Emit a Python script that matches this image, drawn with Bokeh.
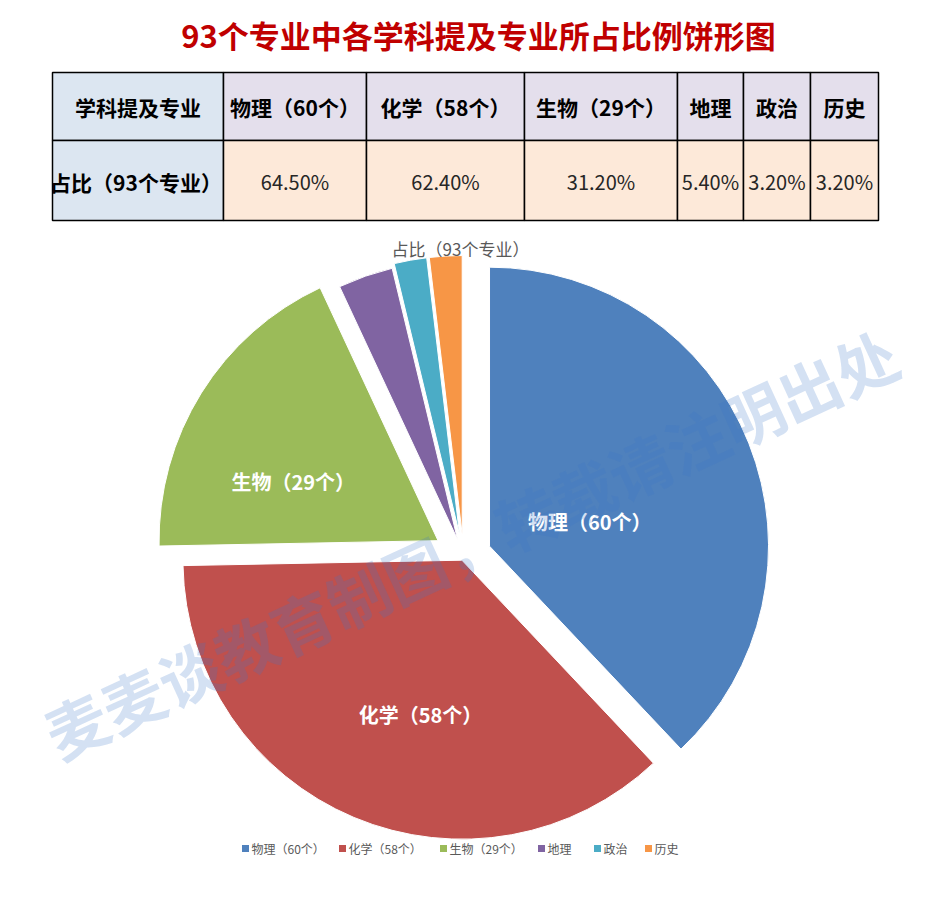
import math
from bokeh.plotting import figure
from bokeh.models import ColumnDataSource, Range1d
from bokeh.core.properties import value
from bokeh.embed import file_html
from bokeh.resources import INLINE

# ---------------- data ----------------
title_text = "93个专业中各学科提及专业所占比例饼形图"
chart_title = "占比（93个专业）"
subjects = ["物理（60个）", "化学（58个）", "生物（29个）", "地理", "政治", "历史"]
shares = [64.5, 62.4, 31.2, 5.4, 3.2, 3.2]
share_labels = ["64.50%", "62.40%", "31.20%", "5.40%", "3.20%", "3.20%"]
row_heads = ["学科提及专业", "占比（93个专业）"]
colors = ["#4F81BD", "#C0504D", "#9BBB59", "#8064A2", "#4BACC6", "#F79646"]
watermark = "麦麦谈教育制图，转载请注明出处"

# ---------------- layout ----------------
W, H = 927, 913
FONT = "Noto Sans CJK SC"


def Y(s):
    return H - s


p = figure(width=W, height=H, x_range=Range1d(0, W), y_range=Range1d(0, H),
           x_axis_type=None, y_axis_type=None, toolbar_location=None,
           output_backend="svg", min_border=0)
p.grid.visible = False
p.outline_line_color = None
p.background_fill_color = "white"
p.border_fill_color = "white"

# title
p.text(x=[478], y=[Y(34)], text=[title_text], text_font=value(FONT),
       text_font_style="bold", text_font_size="31px", text_color="#C00000",
       text_align="center", text_baseline="middle")

# table
col_edges = [52, 223, 366, 524, 677, 743, 810, 878]
row_edges = [72, 140, 220]
head_fill = ["#DCE6F1"] + ["#E4DFEC"] * len(subjects)
data_fill = ["#DCE6F1"] + ["#FDE9D9"] * len(subjects)
lefts, rights, tops, bottoms, fills = [], [], [], [], []
for r, fl in enumerate([head_fill, data_fill]):
    for c in range(len(col_edges) - 1):
        lefts.append(col_edges[c]); rights.append(col_edges[c + 1])
        tops.append(Y(row_edges[r])); bottoms.append(Y(row_edges[r + 1]))
        fills.append(fl[c])
p.quad(left=lefts, right=rights, top=tops, bottom=bottoms, fill_color=fills,
       line_color="black", line_width=1.5)

cx_cells = [(col_edges[i] + col_edges[i + 1]) / 2 for i in range(len(col_edges) - 1)]
head_texts = [row_heads[0]] + subjects
p.text(x=cx_cells, y=[Y(106)] * len(cx_cells), text=head_texts, text_font=value(FONT),
       text_font_style="bold", text_font_size="21px", text_color="black",
       text_align="center", text_baseline="middle")
p.text(x=[cx_cells[0] - 2], y=[Y(181)], text=[row_heads[1]], text_font=value(FONT),
       text_font_style="bold", text_font_size="21px", text_color="black",
       text_align="center", text_baseline="middle")
p.text(x=cx_cells[1:], y=[Y(181)] * len(share_labels), text=share_labels,
       text_font=value(FONT), text_font_size="20px", text_color="#262626",
       text_align="center", text_baseline="middle")

# pie
cx, cy = 463, Y(556)
R = 279
explode = [28, 4, 30, 18, 22, 22]
total = sum(shares)
starts, ends, xs, ys, mids = [], [], [], [], []
acc = 0.0
for v, d in zip(shares, explode):
    s = acc / total * 2 * math.pi
    acc += v
    e = acc / total * 2 * math.pi
    m = (s + e) / 2
    starts.append(math.pi / 2 - s)
    ends.append(math.pi / 2 - e)
    mids.append(m)
    xs.append(cx + d * math.sin(m))
    ys.append(cy + d * math.cos(m))

src = ColumnDataSource(dict(x=xs, y=ys, s=starts, e=ends, c=colors, name=subjects))
p.wedge(x="x", y="y", radius=R, start_angle="s", end_angle="e", direction="clock",
        fill_color="c", line_color="white", line_width=1, source=src)

# slice labels (polar offset from pie centre: angle cw from up in degrees, distance)
label_polar = [(74.5, 131), (195.2, 164), (293.8, 186)]
lx, ly = [], []
for ang, dist in label_polar:
    a = math.radians(ang)
    lx.append(cx + dist * math.sin(a))
    ly.append(cy + dist * math.cos(a))
p.text(x=lx, y=ly, text=subjects[:3], text_font=value(FONT), text_font_style="bold",
       text_font_size="20px", text_color="white", text_align="center",
       text_baseline="middle")

# chart title (drawn over the pie)
p.text(x=[460], y=[Y(248)], text=[chart_title], text_font=value(FONT),
       text_font_size="17px", text_color="#595959",
       text_align="center", text_baseline="middle")

# legend
leg_x = [245, 342, 443, 541, 597, 648]
p.scatter(x=leg_x, y=[Y(848)] * len(leg_x), marker="square", size=7,
          fill_color=colors, line_color=None)
p.text(x=[v + 6 for v in leg_x], y=[Y(848)] * len(leg_x), text=subjects,
       text_font=value(FONT), text_font_size="12px", text_color="#595959",
       text_align="left", text_baseline="middle")

# watermark
p.text(x=[470], y=[Y(542)], text=[watermark], text_font=value(FONT),
       text_font_style="bold", text_font_size="62px", text_color="#3C78C8",
       text_alpha=0.22, angle=math.radians(24.7), text_align="center",
       text_baseline="middle")

open("out.html", "w").write(file_html(p, INLINE))
